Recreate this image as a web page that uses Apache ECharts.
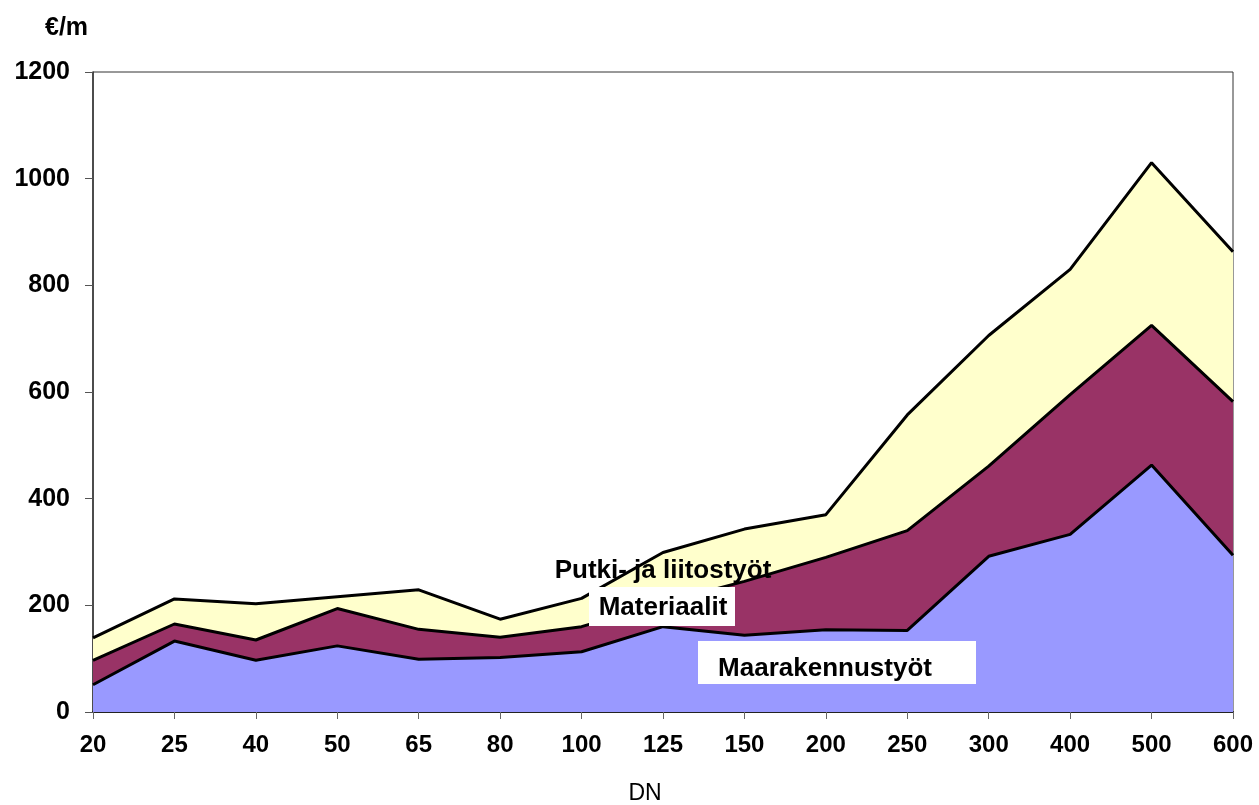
<!DOCTYPE html>
<html>
<head>
<meta charset="utf-8">
<script src="https://cdn.jsdelivr.net/npm/echarts@6/dist/echarts.min.js"></script>
<style>
html,body{margin:0;padding:0;background:#fff;}
#chart{width:1259px;height:805px;}
</style>
</head>
<body>
<div id="chart"></div>
<script>
var categories = ['20','25','40','50','65','80','100','125','150','200','250','300','400','500','600'];
var maarakennustyot = [51, 133, 97, 124, 99, 102, 113, 160, 144, 154, 153, 292, 333, 463, 294];
var materiaalit = [46, 32, 38, 70, 56, 38, 47, 45, 101, 136, 187, 169, 262, 262, 288];
var putkiJaLiitostyot = [42, 47, 68, 22, 74, 34, 53, 94, 98, 80, 217, 245, 235, 305, 281];
var yTicks = {min: 0, max: 1200, interval: 200};

var FONT = "'Liberation Sans', Arial, sans-serif";
var chart = echarts.init(document.getElementById('chart'), null, {renderer: 'canvas'});

function areaSeries(name, data, color) {
  return {
    name: name,
    type: 'line',
    stack: 'total',
    data: data,
    symbol: 'none',
    silent: true,
    lineStyle: {color: '#000', width: 3},
    areaStyle: {color: color, opacity: 1},
    itemStyle: {color: color}
  };
}

chart.setOption({
  animation: false,
  backgroundColor: '#fff',
  grid: {left: 93, right: 26, top: 72, bottom: 93, show: true, borderColor: '#333', borderWidth: 1},
  xAxis: {
    type: 'category',
    data: categories,
    boundaryGap: false,
    axisLine: {lineStyle: {color: '#222', width: 2}},
    axisTick: {show: true, length: 7, alignWithLabel: true, lineStyle: {color: '#666'}},
    axisLabel: {margin: 21, color: '#000', fontFamily: FONT, fontWeight: 'bold', fontSize: 24, interval: 0},
    splitLine: {show: false}
  },
  yAxis: {
    type: 'value',
    min: yTicks.min, max: yTicks.max, interval: yTicks.interval,
    axisLine: {show: true, lineStyle: {color: '#333', width: 1.5}},
    axisTick: {show: true, length: 8, lineStyle: {color: '#555'}},
    axisLabel: {margin: 23, color: '#000', fontFamily: FONT, fontWeight: 'bold', fontSize: 25,
      formatter: function (v) { return String(v); }},
    splitLine: {show: false}
  },
  series: [
    areaSeries('Maarakennustyöt', maarakennustyot, '#9999FF'),
    areaSeries('Materiaalit', materiaalit, '#993366'),
    areaSeries('Putki- ja liitostyöt', putkiJaLiitostyot, '#FFFFCC')
  ],
  graphic: [
    {type: 'text', left: 45, top: 16, style: {text: '€/m', font: 'bold 25px ' + FONT, fill: '#000'}},
    {type: 'text', x: 645, y: 794, style: {text: 'DN', font: '23px ' + FONT, fill: '#000', align: 'center', verticalAlign: 'middle'}},
    {type: 'text', x: 663, y: 571, z: 100, style: {text: 'Putki- ja liitostyöt', font: 'bold 26px ' + FONT, fill: '#000', align: 'center', verticalAlign: 'middle'}},
    {type: 'rect', shape: {x: 589, y: 587, width: 146, height: 39}, z: 100, style: {fill: '#fff'}},
    {type: 'text', x: 663, y: 608, z: 101, style: {text: 'Materiaalit', font: 'bold 26px ' + FONT, fill: '#000', align: 'center', verticalAlign: 'middle'}},
    {type: 'rect', shape: {x: 698, y: 641, width: 278, height: 43}, z: 100, style: {fill: '#fff'}},
    {type: 'text', x: 825, y: 669, z: 101, style: {text: 'Maarakennustyöt', font: 'bold 26px ' + FONT, fill: '#000', align: 'center', verticalAlign: 'middle'}}
  ]
});
</script>
</body>
</html>
